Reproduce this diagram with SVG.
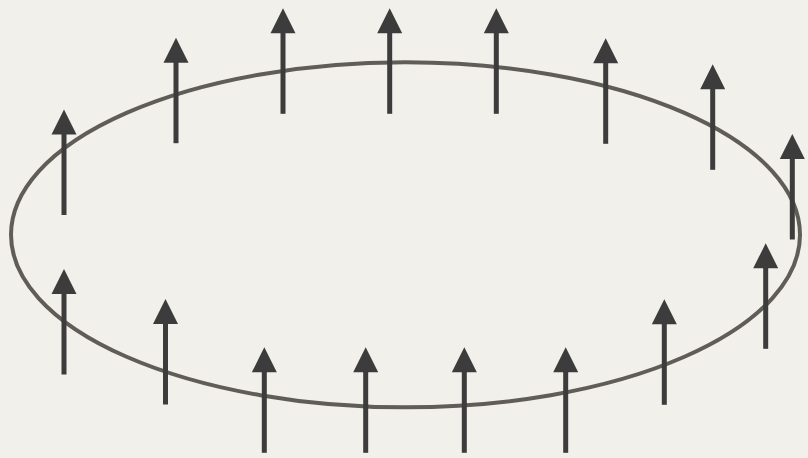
<svg xmlns="http://www.w3.org/2000/svg" xmlns:xlink="http://www.w3.org/1999/xlink" width="808" height="458" viewBox="0 0 808 458">
  <style>
    .ring { fill: none; stroke: #605c58; stroke-width: 4; }
    .arrow { fill: #3c3c3c; }
  </style>
  <defs>
    <g id="arrow">
      <polygon class="arrow" points="0,0 -12.5,25 12.5,25"/>
      <rect class="arrow" x="-2.5" y="24" width="5" height="81.5"/>
    </g>
  </defs>
  <rect width="808" height="458" fill="#f2f0eb"/>
  <g id="ring">
    <ellipse class="ring" cx="405.5" cy="234.8" rx="394.5" ry="172.5"/>
  </g>
  <g id="arrows">
    <use xlink:href="#arrow" href="#arrow" x="64" y="109.5"/>
    <use xlink:href="#arrow" href="#arrow" x="64" y="269"/>
    <use xlink:href="#arrow" href="#arrow" x="165.5" y="299"/>
    <use xlink:href="#arrow" href="#arrow" x="176" y="37.7"/>
    <use xlink:href="#arrow" href="#arrow" x="283" y="8.3"/>
    <use xlink:href="#arrow" href="#arrow" x="389.7" y="8.3"/>
    <use xlink:href="#arrow" href="#arrow" x="496.3" y="8.3"/>
    <use xlink:href="#arrow" href="#arrow" x="605.7" y="38.3"/>
    <use xlink:href="#arrow" href="#arrow" x="712.7" y="64.3"/>
    <use xlink:href="#arrow" href="#arrow" x="792.3" y="134"/>
    <use xlink:href="#arrow" href="#arrow" x="765.7" y="243.3"/>
    <use xlink:href="#arrow" href="#arrow" x="664.3" y="299.3"/>
    <use xlink:href="#arrow" href="#arrow" x="565.7" y="347.3"/>
    <use xlink:href="#arrow" href="#arrow" x="464.3" y="347.3"/>
    <use xlink:href="#arrow" href="#arrow" x="365.7" y="347.3"/>
    <use xlink:href="#arrow" href="#arrow" x="264.3" y="347.3"/>
  </g>
</svg>
